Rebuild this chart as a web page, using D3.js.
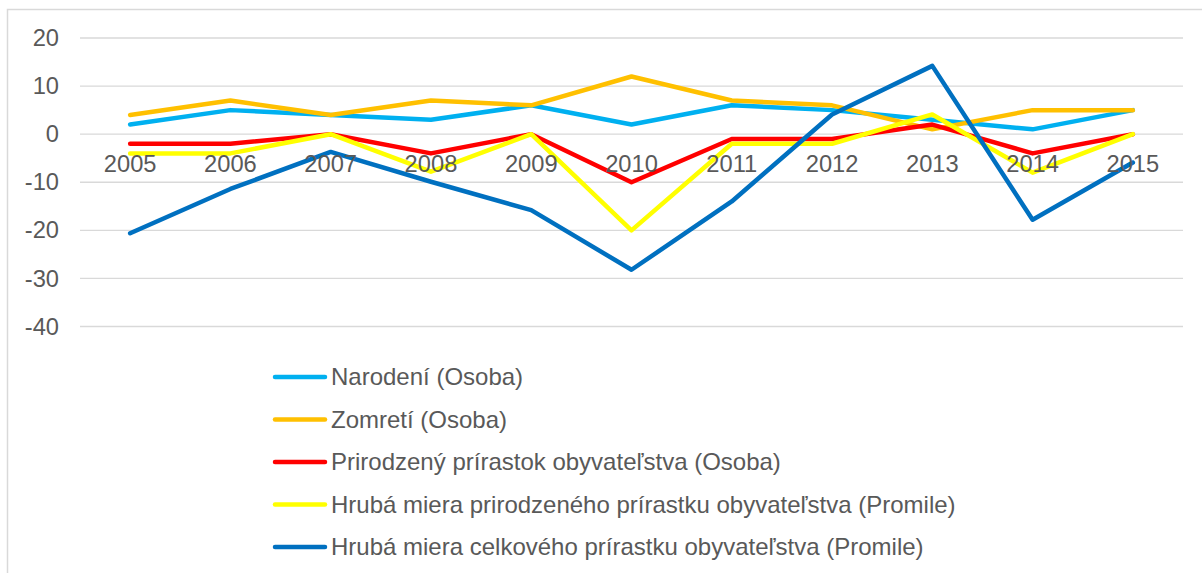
<!DOCTYPE html>
<html>
<head>
<meta charset="utf-8">
<script src="https://cdn.jsdelivr.net/npm/d3@7"></script>
<style>
  body { margin: 0; background: #fff; }
  .svgText { font-family: "Liberation Sans", Arial, sans-serif; fill: #595959; }
</style>
</head>
<body>
<div id="chart"></div>
<script>

const years = ['2005', '2006', '2007', '2008', '2009', '2010', '2011', '2012', '2013', '2014', '2015'];
const yTicks = [20, 10, 0, -10, -20, -30, -40];

const seriesNames = [
  'Narodení (Osoba)',
  'Zomretí (Osoba)',
  'Prirodzený prírastok obyvateľstva (Osoba)',
  'Hrubá miera prirodzeného prírastku obyvateľstva (Promile)',
  'Hrubá miera celkového prírastku obyvateľstva (Promile)'
];
const seriesColors = ['#00B0F0', '#FFC000', '#FF0000', '#FFFF00', '#0070C0'];

const narodeni = [2, 5, 4, 3, 6, 2, 6, 5, 3, 1, 5];
const zomreti = [4, 7, 4, 7, 6, 12, 7, 6, 1, 5, 5];
const prirastok = [-2, -2, 0, -4, 0, -10, -1, -1, 2, -4, 0];
const hrubaPrirodzeny = [-4, -4, 0, -7.8, 0, -20, -2, -2, 4.1, -8, 0];
const hrubaCelkovy = [-20.6, -11.4, -3.7, -9.9, -15.8, -28.2, -14, 4.1, 14.2, -17.8, -5.9];

LineChart = {

  svgSize: {width: 1202, height: 573},
  plot: {left: 80, right: 1183, top: 38, bottom: 326.5},
  legendPosition: {x: 273, y: 377, step: 42.5},

  createSVG: function(){
    this.svg = d3.select('#chart').append('svg')
      .attr('width', this.svgSize.width)
      .attr('height', this.svgSize.height)
    // chart frame, only left and top edges fall inside the picture
    this.svg.append('rect')
      .attr('x', 7.5).attr('y', 9.5)
      .attr('width', 1300).attr('height', 700)
      .attr('fill', 'none')
      .attr('stroke', '#D9D9D9')
      .attr('stroke-width', 1.5)
  },

  createScales: function(){
    this.xScale = d3.scaleBand().domain(years).range([this.plot.left, this.plot.right])
    this.yScale = d3.scaleLinear().domain([20, -40]).range([this.plot.top, this.plot.bottom])
  },

  createGrid: function(){
    this.svg.append('g').selectAll('line')
      .data(yTicks)
      .enter()
      .append('line')
      .attr('x1', this.plot.left)
      .attr('x2', this.plot.right)
      .attr('y1', (d)=> this.yScale(d))
      .attr('y2', (d)=> this.yScale(d))
      .attr('stroke', '#D9D9D9')
      .attr('stroke-width', 1.3)
  },

  createAxis: function(){
    // plain hyphen for negatives, like the original
    const yAxis = d3.axisLeft(this.yScale).tickValues(yTicks).tickFormat((d)=> String(d))
      .tickSize(0).tickPadding(21)
    const xAxis = d3.axisBottom(this.xScale).tickSize(0).tickPadding(21)

    const yGroup = this.svg.append('g')
      .attr('transform', `translate(${this.plot.left}, 0)`)
      .call(yAxis)
    const xGroup = this.svg.append('g')
      .attr('transform', `translate(0, ${this.yScale(0)})`)
      .call(xAxis)

    ;[xGroup, yGroup].forEach((g)=>{
      g.select('.domain').remove()
      g.attr('font-size', null).attr('font-family', null)
      g.selectAll('text').attr('class', 'svgText').style('font-size', '23.7px').attr('fill', null)
    })
  },

  createLines: function(){
    const data = [narodeni, zomreti, prirastok, hrubaPrirodzeny, hrubaCelkovy]
    const line = d3.line()
      .x((d, i)=> this.xScale(years[i]) + this.xScale.bandwidth() / 2)
      .y((d)=> this.yScale(d))

    this.svg.append('g').selectAll('path')
      .data(data)
      .enter()
      .append('path')
      .attr('d', line)
      .attr('fill', 'none')
      .attr('stroke', (d, i)=> seriesColors[i])
      .attr('stroke-width', 4.5)
      .attr('stroke-linecap', 'round')
      .attr('stroke-linejoin', 'round')
  },

  createLegend: function(){
    const items = this.svg.append('g')
      .attr('transform', `translate(${this.legendPosition.x}, ${this.legendPosition.y})`)
      .selectAll('g')
      .data(seriesNames)
      .enter()
      .append('g')
      .attr('transform', (d, i)=> `translate(0, ${i * this.legendPosition.step})`)

    items.append('line')
      .attr('x1', 2).attr('x2', 52)
      .attr('stroke', (d, i)=> seriesColors[i])
      .attr('stroke-width', 4.5)
      .attr('stroke-linecap', 'round')

    items.append('text')
      .attr('class', 'svgText')
      .attr('x', 58)
      .attr('dy', '0.35em')
      .style('font-size', '24px')
      .text((d)=> d)
  },

  loadChart: function(){
    this.createSVG()
    this.createScales()
    this.createGrid()
    this.createLines()
    this.createAxis()
    this.createLegend()
  },
}

LineChart.loadChart()

</script>
</body>
</html>
